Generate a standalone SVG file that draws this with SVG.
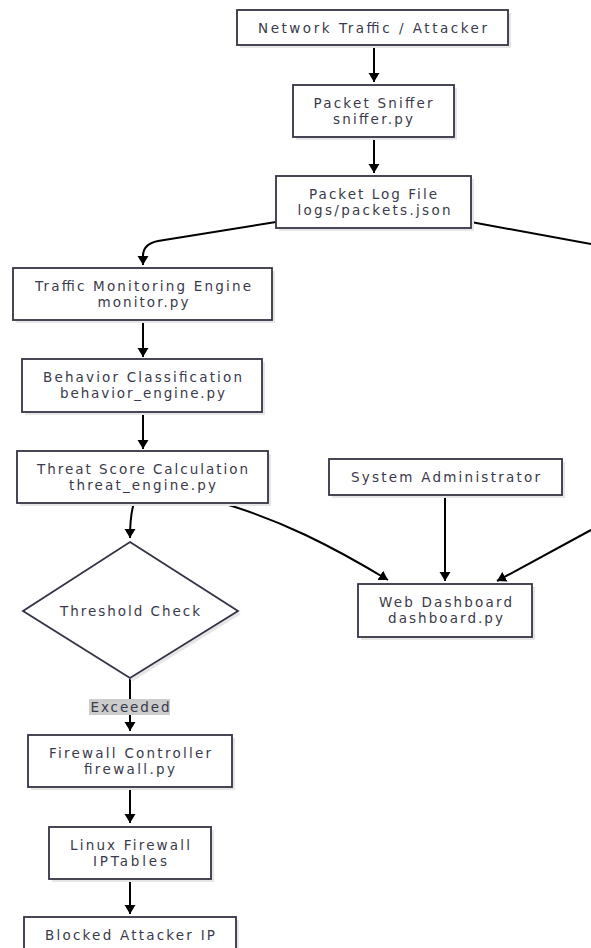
<svg xmlns="http://www.w3.org/2000/svg" width="591" height="948" viewBox="0 0 591 948">
<style>
.box{fill:#ffffff;stroke:#333344;stroke-width:1.8}
.sh{fill:#e6e6e6;stroke:none}
.t{font-family:"DejaVu Sans","Noto Sans",sans-serif;font-size:13.5px;fill:#3a3a4a;text-anchor:middle}
.e{fill:none;stroke:#000;stroke-width:2}
</style>
<defs>
<marker id="ah" markerWidth="12" markerHeight="12" refX="9" refY="6" orient="auto" markerUnits="userSpaceOnUse">
<path d="M0,0.5 L9,6 L0,11.5 z" fill="#000"/>
</marker>
</defs>
<rect width="591" height="948" fill="#fff"/>
<g id="connectors">
<path class="e" d="M374,45 L374,82" marker-end="url(#ah)"/>
<path class="e" d="M374,137 L374,173" marker-end="url(#ah)"/>
<path class="e" d="M276,222 L158,241 Q143,244 143,256 L143,265" marker-end="url(#ah)"/>
<path class="e" d="M471,222 L591,244"/>
<path class="e" d="M143,320 L143,357" marker-end="url(#ah)"/>
<path class="e" d="M143,412 L143,449" marker-end="url(#ah)"/>
<path class="e" d="M134,503 Q130,515 130,538" marker-end="url(#ah)"/>
<path class="e" d="M222,503 C280,520 330,545 388,580" marker-end="url(#ah)"/>
<path class="e" d="M445,495 L445,581" marker-end="url(#ah)"/>
<path class="e" d="M591,530 L497,581" marker-end="url(#ah)"/>
<path class="e" d="M130,678 L130,731" marker-end="url(#ah)"/>
<path class="e" d="M130,787 L130,823" marker-end="url(#ah)"/>
<path class="e" d="M130,879 L130,914" marker-end="url(#ah)"/>
<g id="lbl-exceeded">
<rect x="89" y="699" width="81" height="16" fill="#cccccc"/>
<text class="t" x="130" y="712" textLength="79" lengthAdjust="spacing">Exceeded</text>
</g>
</g>
<g id="n-traffic">
<rect class="sh" x="240" y="13" width="271" height="35"/>
<rect class="box" x="237" y="10" width="271" height="35"/>
<text class="t" x="372.5" y="32.5" textLength="229" lengthAdjust="spacing">Network Traffic / Attacker</text>
</g>
<g id="n-sniffer">
<rect class="sh" x="296" y="88" width="161" height="52"/>
<rect class="box" x="293" y="85" width="161" height="52"/>
<text class="t" x="373" y="107.5" textLength="119" lengthAdjust="spacing">Packet Sniffer</text>
<text class="t" x="373" y="123.5" textLength="80" lengthAdjust="spacing">sniffer.py</text>
</g>
<g id="n-log">
<rect class="sh" x="279" y="179" width="195" height="52"/>
<rect class="box" x="276" y="176" width="195" height="52"/>
<text class="t" x="373" y="198.5" textLength="128" lengthAdjust="spacing">Packet Log File</text>
<text class="t" x="374" y="214.5" textLength="153" lengthAdjust="spacing">logs/packets.json</text>
</g>
<g id="n-monitor">
<rect class="sh" x="16" y="271" width="259" height="52"/>
<rect class="box" x="13" y="268" width="259" height="52"/>
<text class="t" x="143" y="290.5" textLength="216" lengthAdjust="spacing">Traffic Monitoring Engine</text>
<text class="t" x="143" y="306.5" textLength="91" lengthAdjust="spacing">monitor.py</text>
</g>
<g id="n-behavior">
<rect class="sh" x="25" y="362" width="240" height="53"/>
<rect class="box" x="22" y="359" width="240" height="53"/>
<text class="t" x="142.5" y="381.5" textLength="199" lengthAdjust="spacing">Behavior Classification</text>
<text class="t" x="142.5" y="397.5" textLength="165" lengthAdjust="spacing">behavior_engine.py</text>
</g>
<g id="n-threat">
<rect class="sh" x="20" y="454" width="251" height="52"/>
<rect class="box" x="17" y="451" width="251" height="52"/>
<text class="t" x="142.5" y="473.5" textLength="211" lengthAdjust="spacing">Threat Score Calculation</text>
<text class="t" x="142.5" y="489.5" textLength="147" lengthAdjust="spacing">threat_engine.py</text>
</g>
<g id="n-check">
<polygon class="sh" points="133,545 241,614 133,681 26,614"/>
<polygon class="box" points="130,542 238,611 130,678 23,611"/>
<text class="t" x="130" y="615.5" textLength="140" lengthAdjust="spacing">Threshold Check</text>
</g>
<g id="n-admin">
<rect class="sh" x="332" y="462" width="233" height="36"/>
<rect class="box" x="329" y="459" width="233" height="36"/>
<text class="t" x="445.5" y="482" textLength="189" lengthAdjust="spacing">System Administrator</text>
</g>
<g id="n-dashboard">
<rect class="sh" x="361" y="587" width="174" height="53"/>
<rect class="box" x="358" y="584" width="174" height="53"/>
<text class="t" x="445.5" y="606.5" textLength="133" lengthAdjust="spacing">Web Dashboard</text>
<text class="t" x="445.5" y="622.5" textLength="115" lengthAdjust="spacing">dashboard.py</text>
</g>
<g id="n-fwctl">
<rect class="sh" x="31" y="738" width="204" height="52"/>
<rect class="box" x="28" y="735" width="204" height="52"/>
<text class="t" x="130" y="757.5" textLength="162" lengthAdjust="spacing">Firewall Controller</text>
<text class="t" x="129.5" y="773.5" textLength="91" lengthAdjust="spacing">firewall.py</text>
</g>
<g id="n-linux">
<rect class="sh" x="52" y="830" width="162" height="52"/>
<rect class="box" x="49" y="827" width="162" height="52"/>
<text class="t" x="130" y="849.5" textLength="120" lengthAdjust="spacing">Linux Firewall</text>
<text class="t" x="130" y="865.5" textLength="74" lengthAdjust="spacing">IPTables</text>
</g>
<g id="n-blocked">
<rect class="sh" x="27" y="920" width="212" height="52"/>
<rect class="box" x="24" y="917" width="212" height="52"/>
<text class="t" x="130" y="939.5" textLength="170" lengthAdjust="spacing">Blocked Attacker IP</text>
</g>
</svg>
